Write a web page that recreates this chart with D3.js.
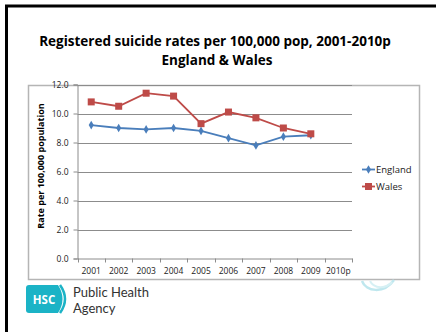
<!DOCTYPE html>
<html><head><meta charset="utf-8">
<script src="https://cdn.jsdelivr.net/npm/d3@7"></script>
<style>body{margin:0;background:#fff}svg{display:block;font-family:"Open Sans",sans-serif}</style>
</head><body>
<script>
const years = ["2001","2002","2003","2004","2005","2006","2007","2008","2009","2010p"];
const england = [9.2, 9.0, 8.9, 9.0, 8.8, 8.3, 7.8, 8.4, 8.5];
const wales = [10.8, 10.5, 11.4, 11.2, 9.3, 10.1, 9.7, 9.0, 8.6];
const yTicks = [0, 2, 4, 6, 8, 10, 12];
const seriesNames = ["England", "Wales"];

(function () {
const W = 436, H = 332;
const svg = d3.select("body").append("svg").attr("width", W).attr("height", H);

// outer frame (left + top thick black)
svg.append("line").attr("x1", 6.5).attr("x2", 6.5).attr("y1", 5).attr("y2", H).attr("stroke", "#000").attr("stroke-width", 3);
svg.append("line").attr("x1", 5).attr("x2", W).attr("y1", 6).attr("y2", 6).attr("stroke", "#000").attr("stroke-width", 3);

// title
svg.append("text").attr("x", 215).attr("y", 46).attr("text-anchor", "middle")
  .attr("font-weight", "bold").attr("font-size", 13.5).attr("fill", "#000")
  .text("Registered suicide rates per 100,000 pop, 2001-2010p");
svg.append("text").attr("x", 217).attr("y", 65).attr("text-anchor", "middle")
  .attr("font-weight", "bold").attr("font-size", 13.5).attr("fill", "#000")
  .text("England & Wales");

// chart box
svg.append("rect").attr("x", 28.5).attr("y", 85.5).attr("width", 391).attr("height", 194)
  .attr("fill", "none").attr("stroke", "#b5b5b5").attr("stroke-width", 1.5);

const pLeft = 77.5, pRight = 352, pTop = 84.5, pBottom = 258.5;
const x = d3.scaleBand().domain(years).range([pLeft, pRight]);
const y = d3.scaleLinear().domain([0, 12]).range([pBottom, pTop]);

// gridlines
svg.append("g").selectAll("line").data(yTicks.filter(d => d > 0)).join("line")
  .attr("x1", pLeft).attr("x2", pRight).attr("y1", d => Math.round(y(d)) + 0.5).attr("y2", d => Math.round(y(d)) + 0.5)
  .attr("stroke", "#8c8c8c").attr("stroke-width", 1);

// y axis
const yAxis = svg.append("g").attr("transform", `translate(${pLeft},0)`)
  .call(d3.axisLeft(y).tickValues(yTicks).tickFormat(d3.format(".1f")).tickSize(4).tickPadding(5));
yAxis.attr("font-family", null).attr("font-size", null);
yAxis.select(".domain").attr("stroke", "#8c8c8c");
yAxis.selectAll(".tick line").attr("stroke", "#8c8c8c");
yAxis.selectAll("text").attr("font-size", 8.5).attr("fill", "#222");

// x axis
const xAxis = svg.append("g").attr("transform", `translate(0,${pBottom})`)
  .call(d3.axisBottom(x).tickSize(0).tickPadding(9));
xAxis.attr("font-family", null).attr("font-size", null);
xAxis.select(".domain").attr("stroke", "#8c8c8c");
xAxis.selectAll("text").attr("font-size", 8.5).attr("fill", "#222");
const bounds = years.map(d => x(d)).concat([pRight]);
svg.append("g").selectAll("line").data(bounds).join("line")
  .attr("x1", d => Math.round(d) + 0.5).attr("x2", d => Math.round(d) + 0.5)
  .attr("y1", pBottom).attr("y2", pBottom + 4).attr("stroke", "#8c8c8c");

// y axis title
svg.append("text").attr("transform", `translate(44,166) rotate(-90)`).attr("text-anchor", "middle")
  .attr("font-weight", "bold").attr("font-size", 9).attr("fill", "#000")
  .text("Rate per 100,000 population");

const cx = (i) => x(years[i]) + x.bandwidth() / 2;
const line = d3.line().x((d, i) => cx(i)).y(d => y(d));
const colors = {England: "#4a7ebb", Wales: "#be4b48"};

svg.append("path").datum(england).attr("d", line).attr("fill", "none").attr("stroke", colors.England).attr("stroke-width", 1.8);
svg.append("path").datum(wales).attr("d", line).attr("fill", "none").attr("stroke", colors.Wales).attr("stroke-width", 1.8);

const diamond = d3.symbol().type(d3.symbolDiamond).size(22);
svg.append("g").selectAll("path").data(england).join("path")
  .attr("d", diamond).attr("transform", (d, i) => `translate(${cx(i)},${y(d)})`).attr("fill", colors.England);
svg.append("g").selectAll("rect").data(wales).join("rect")
  .attr("x", (d, i) => cx(i) - 3.5).attr("y", d => y(d) - 3.5).attr("width", 7).attr("height", 7).attr("fill", colors.Wales);

// legend
const lg = svg.append("g");
seriesNames.forEach((name, k) => {
  const ly = 169.5 + k * 17;
  lg.append("line").attr("x1", 362).attr("x2", 375).attr("y1", ly).attr("y2", ly).attr("stroke", colors[name]).attr("stroke-width", 1.8);
  if (name === "England") lg.append("path").attr("d", diamond).attr("transform", `translate(368.5,${ly})`).attr("fill", colors[name]);
  else lg.append("rect").attr("x", 365).attr("y", ly - 3.5).attr("width", 7).attr("height", 7).attr("fill", colors[name]);
  lg.append("text").attr("x", 376).attr("y", ly + 3.5).attr("font-size", 9.5).attr("fill", "#222").text(name);
});

// swirl decoration
svg.append("path").attr("d", "M362,281 C366,292 384,294 394,280").attr("fill", "none").attr("stroke", "#bfe7ee").attr("stroke-width", 2.5);
svg.append("path").attr("d", "M370,281 C374,289 386,289 392,282").attr("fill", "none").attr("stroke", "#d6f0f4").attr("stroke-width", 2);

// logo
const logo = svg.append("g");
logo.append("path").attr("d", "M29,285 H58 Q67,299 58,313 H29 Q26,313 26,310 V288 Q26,285 29,285 Z").attr("fill", "#1bb3c6");
logo.append("path").attr("d", "M60,285 Q70,299 60,313").attr("fill", "none").attr("stroke", "#1bb3c6").attr("stroke-width", 2.5);
logo.append("text").attr("x", 44).attr("y", 304).attr("text-anchor", "middle").attr("font-weight", "bold")
  .attr("font-size", 11.5).attr("fill", "#fff").text("HSC");
logo.append("text").attr("x", 73).attr("y", 297).style("font-family", "Lato, sans-serif").style("font-size", "13px").attr("fill", "#333").text("Public Health");
logo.append("text").attr("x", 73).attr("y", 313).style("font-family", "Lato, sans-serif").style("font-size", "13px").attr("fill", "#333").text("Agency");
})();
</script>
</body></html>
